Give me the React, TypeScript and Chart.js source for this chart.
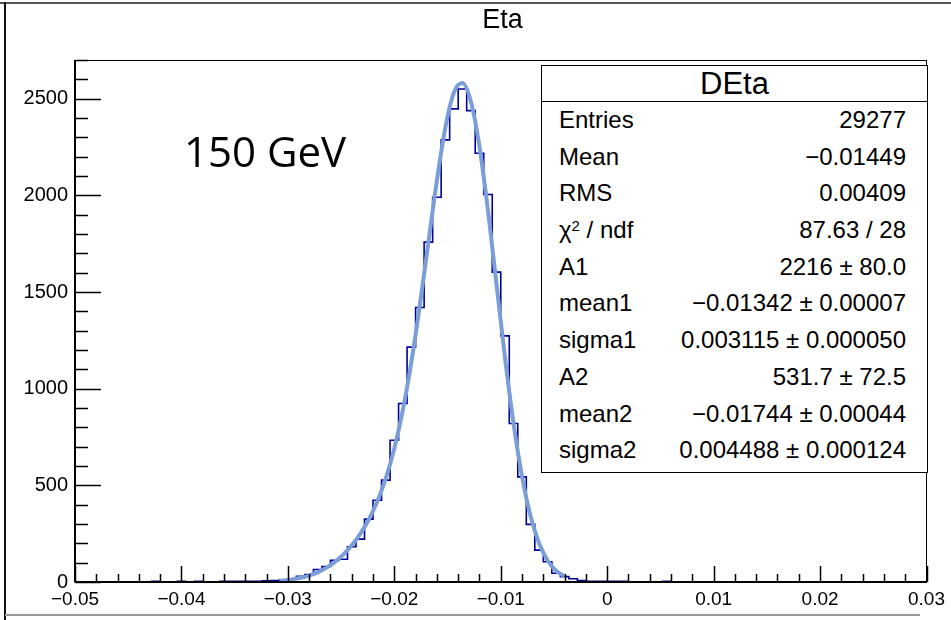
import React, { useEffect, useRef } from 'react';
import { Chart, registerables } from 'chart.js';

Chart.register(...registerables);

// ---------- data ----------
const X_MIN = -0.05;
const X_MAX = 0.03;
const Y_MIN = 0;
const Y_MAX = 2700;
const BIN_WIDTH = 0.0008;

// histogram counts, 100 bins from -0.05 to 0.03
const counts: number[] = [
  0, 0, 0, 0, 0, 0, 0, 0, 0, 4,
  0, 0, 4, 0, 4, 0, 0, 4, 4, 4,
  4, 4, 6, 8, 12, 16, 30, 38, 65, 80,
  112, 118, 182, 222, 325, 423, 527, 733, 923, 1215,
  1420, 1758, 1990, 2287, 2447, 2550, 2438, 2218, 2004, 1603,
  1273, 820, 544, 298, 165, 105, 45, 28, 17, 8,
  4, 4, 4, 4, 4, 0, 0, 0, 0, 4,
  0, 0, 0, 0, 0, 0, 0, 0, 0, 0,
  0, 0, 0, 0, 0, 0, 0, 0, 0, 0,
  0, 0, 0, 0, 0, 0, 0, 0, 0, 0,
];

// fitted double-gaussian curve
const fitX: number[] = [
  -0.0308, -0.0304, -0.0296, -0.0288, -0.0280, -0.0272, -0.0264, -0.0256, -0.0248, -0.0240,
  -0.0232, -0.0224, -0.0216, -0.0208, -0.0200, -0.0192, -0.0184, -0.0176, -0.0168, -0.0160,
  -0.0152, -0.0144, -0.0136, -0.0128, -0.0120, -0.0112, -0.0104, -0.0096, -0.0088, -0.0080,
  -0.0072, -0.0064, -0.0056, -0.0048, -0.0040,
];
const fitY: number[] = [
  6.3, 8.2, 13.6, 21.6, 33.4, 50.1, 72.9, 102.9, 141.4, 189.6,
  249.4, 323.4, 416.5, 535.7, 689.8, 888.6, 1137, 1432, 1756, 2077,
  2352, 2532, 2581, 2484, 2252, 1921, 1540, 1160, 821, 546,
  341, 200.7, 111.3, 58.3, 28.9,
];

const xTickValues: number[] = [-0.05, -0.04, -0.03, -0.02, -0.01, 0, 0.01, 0.02, 0.03];
const xTickLabels: string[] = ['\u22120.05', '\u22120.04', '\u22120.03', '\u22120.02', '\u22120.01', '0', '0.01', '0.02', '0.03'];
const yTickValues: number[] = [0, 500, 1000, 1500, 2000, 2500];
const yTickLabels: string[] = ['0', '500', '1000', '1500', '2000', '2500'];
const X_MINOR = 0.002;
const Y_MINOR = 100;

const statsTitle = 'DEta';
const statsLabels: string[] = ['Entries', 'Mean', 'RMS', 'CHI2', 'A1', 'mean1', 'sigma1', 'A2', 'mean2', 'sigma2'];
const statsValues: string[] = [
  '29277',
  '\u22120.01449',
  '0.00409',
  '87.63 / 28',
  '2216 \u00b1 80.0',
  '\u22120.01342 \u00b1 0.00007',
  '0.003115 \u00b1 0.000050',
  '531.7 \u00b1 72.5',
  '\u22120.01744 \u00b1 0.00044',
  '0.004488 \u00b1 0.000124',
];
const chartTitle = 'Eta';
const annotation = '150 GeV';

const ROOT_FONT = '"Liberation Sans", Arial, Helvetica, sans-serif';

const rootAxesPlugin = {
  id: 'rootAxes',
  afterDatasetsDraw(chart: any) {
    const { ctx, chartArea: a, scales } = chart;
    const xs = scales.x;
    const ys = scales.y;
    ctx.save();
    ctx.strokeStyle = '#000';
    ctx.lineWidth = 1;
    ctx.strokeRect(a.left, a.top + 0.5, a.right - a.left, a.bottom - a.top);
    ctx.lineWidth = 2;
    ctx.beginPath();
    ctx.moveTo(a.left, a.bottom);
    ctx.lineTo(a.right, a.bottom);
    ctx.moveTo(a.left, a.top);
    ctx.lineTo(a.left, a.bottom);
    ctx.stroke();
    ctx.lineWidth = 1.5;
    ctx.beginPath();
    const nx = Math.round((X_MAX - X_MIN) / X_MINOR);
    for (let k = 0; k <= nx; k++) {
      const px = Math.round(xs.getPixelForValue(X_MIN + k * X_MINOR)) + 0.5;
      const len = k % 5 === 0 ? 16 : 8;
      ctx.moveTo(px, a.bottom);
      ctx.lineTo(px, a.bottom - len);
    }
    const ny = Math.round((Y_MAX - Y_MIN) / Y_MINOR);
    for (let k = 0; k <= ny; k++) {
      const py = Math.round(ys.getPixelForValue(Y_MIN + k * Y_MINOR)) + 0.5;
      const len = k % 5 === 0 ? 26 : 13;
      ctx.moveTo(a.left, py);
      ctx.lineTo(a.left + len, py);
    }
    ctx.stroke();
    ctx.restore();
  },
};

export default function App() {
  const ref = useRef<HTMLCanvasElement>(null);

  useEffect(() => {
    if (!ref.current) return;
    const histPoints = counts.map((c, i) => ({ x: X_MIN + (i + 0.5) * BIN_WIDTH, y: c }));
    const fitPoints = fitX.map((x, i) => ({ x, y: fitY[i] }));
    const chart = new Chart(ref.current, {
      type: 'line',
      data: {
        datasets: [
          {
            label: 'fit',
            data: fitPoints,
            borderColor: '#7b9ed8',
            borderWidth: 4,
            pointRadius: 0,
            cubicInterpolationMode: 'monotone',
            fill: false,
            order: 0,
          },
          {
            label: 'DEta',
            data: histPoints,
            borderColor: '#000099',
            borderWidth: 1.6,
            pointRadius: 0,
            stepped: 'middle',
            fill: false,
            order: 1,
          },
        ],
      },
      options: {
        animation: false,
        responsive: false,
        maintainAspectRatio: false,
        events: [],
        layout: { padding: { left: 8, top: 60, right: 20, bottom: 0 } },
        plugins: { legend: { display: false }, tooltip: { enabled: false }, title: { display: false } },
        scales: {
          x: {
            type: 'linear',
            min: X_MIN,
            max: X_MAX,
            grid: { display: false, drawTicks: false },
            border: { display: false },
            afterBuildTicks: (s: any) => {
              s.ticks = xTickValues.map((v) => ({ value: v }));
            },
            afterFit: (s: any) => {
              s.height = 38;
            },
            ticks: {
              autoSkip: false,
              maxRotation: 0,
              padding: 6,
              color: '#000',
              font: { family: ROOT_FONT, size: 19 },
              callback: (_v: any, i: number) => xTickLabels[i],
            },
          },
          y: {
            type: 'linear',
            min: Y_MIN,
            max: Y_MAX,
            grid: { display: false, drawTicks: false },
            border: { display: false },
            afterBuildTicks: (s: any) => {
              s.ticks = yTickValues.map((v) => ({ value: v }));
            },
            afterFit: (s: any) => {
              s.width = 67;
            },
            ticks: {
              autoSkip: false,
              padding: 7,
              color: '#000',
              font: { family: ROOT_FONT, size: 20 },
              callback: (_v: any, i: number) => yTickLabels[i],
            },
          },
        },
      },
      plugins: [rootAxesPlugin],
    } as any);
    return () => chart.destroy();
  }, []);

  return (
    <div style={{ position: 'fixed', left: 0, top: 0, width: 951, height: 620, background: '#fff', overflow: 'hidden' }}>
      <canvas ref={ref} width={951} height={620} style={{ position: 'absolute', left: 0, top: 0, width: 951, height: 620 }} />
      {/* outer canvas border */}
      <div style={{ position: 'absolute', left: 0, top: 2, width: 951, height: 0, borderTop: '2px solid #555' }} />
      <div style={{ position: 'absolute', left: 4, top: 2, width: 0, height: 618, borderLeft: '2px solid #111' }} />
      <div style={{ position: 'absolute', left: 5, top: 614, width: 915, height: 0, borderTop: '2px solid #999' }} />
      {/* title */}
      <div style={{ position: 'absolute', left: 400, top: 4, width: 205, textAlign: 'center', fontFamily: ROOT_FONT, fontSize: 27, lineHeight: '30px', color: '#000' }}>
        {chartTitle}
      </div>
      {/* annotation */}
      <div style={{ position: 'absolute', left: 184, top: 126, whiteSpace: 'nowrap', fontFamily: '"Open Sans", "Noto Sans", sans-serif', fontSize: 42, lineHeight: '50px', color: '#000' }}>
        {annotation}
      </div>
      {/* stats box */}
      <div style={{ position: 'absolute', left: 541, top: 65, width: 387, height: 408, boxSizing: 'border-box', border: '1.5px solid #000', background: '#fff', fontFamily: ROOT_FONT, color: '#000' }}>
        <div style={{ height: 35, lineHeight: '35px', fontSize: 31, textAlign: 'center', borderBottom: '1.5px solid #000' }}>{statsTitle}</div>
        {statsLabels.map((lab, i) => (
          <div key={lab} style={{ display: 'flex', justifyContent: 'space-between', height: 36.7, lineHeight: '36.7px', fontSize: 24, padding: '0 21px 0 17px', whiteSpace: 'nowrap' }}>
            <span>
              {lab === 'CHI2' ? (
                <>
                  {'\u03c7'}
                  <sup style={{ fontSize: 15, lineHeight: 0, verticalAlign: '0.5em' }}>2</sup>
                  {' / ndf'}
                </>
              ) : (
                lab
              )}
            </span>
            <span>{statsValues[i]}</span>
          </div>
        ))}
      </div>
    </div>
  );
}
